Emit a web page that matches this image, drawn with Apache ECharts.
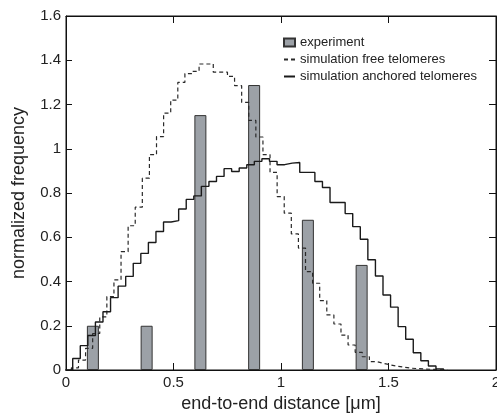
<!DOCTYPE html>
<html>
<head>
<meta charset="utf-8">
<script src="https://cdn.jsdelivr.net/npm/echarts@6/dist/echarts.min.js"></script>
<style>
  html, body { margin: 0; padding: 0; background: #fff; }
  #main { width: 497px; height: 417px; }
</style>
</head>
<body>
<div id="main"></div>
<script>
// experiment histogram (bar centres and heights)
var barCenters = [0.125, 0.375, 0.625, 0.875, 1.125, 1.375];
var experiment = [0.2, 0.2, 1.152, 1.288, 0.679, 0.475];

// simulation free telomeres, bins start at freeStart, width freeWidth
var freeStart = 0.025;
var freeWidth = 0.033;
var freeFreq = [0.01, 0.045, 0.098, 0.165, 0.24, 0.332, 0.407, 0.535, 0.652, 0.736,
  0.867, 0.973, 1.055, 1.161, 1.22, 1.30, 1.34, 1.35, 1.383, 1.383,
  1.346, 1.346, 1.327, 1.285, 1.21, 1.128, 1.053, 0.973, 0.893, 0.784,
  0.709, 0.615, 0.551, 0.445, 0.392, 0.314, 0.249, 0.208, 0.158, 0.113,
  0.08, 0.06, 0.038, 0.03, 0.023, 0.017, 0.012, 0.008, 0.006, 0.004,
  0.003, 0.002, 0];

// simulation anchored telomeres
var anchStart = -0.004;
var anchWidth = 0.0352;
var anchFreq = [0, 0.052, 0.11, 0.156, 0.217, 0.263, 0.327, 0.379, 0.423, 0.482,
  0.527, 0.576, 0.626, 0.669, 0.675, 0.728, 0.771, 0.787, 0.83, 0.852,
  0.875, 0.91, 0.897, 0.913, 0.928, 0.943, 0.955, 0.943, 0.928, 0.935,
  0.938, 0.893, 0.893, 0.852, 0.825, 0.757, 0.757, 0.707, 0.648, 0.591,
  0.498, 0.425, 0.339, 0.284, 0.196, 0.139, 0.078, 0.042, 0.018, 0.005];

var xTicks = [0, 0.5, 1, 1.5, 2];
var yTicks = [0, 0.2, 0.4, 0.6, 0.8, 1, 1.2, 1.4, 1.6];

function stepData(start, width, vals) {
  var out = [[start, 0]];
  for (var i = 0; i < vals.length; i++) {
    out.push([start + i * width, vals[i]]);
  }
  out.push([start + vals.length * width, 0]);
  return out;
}

var barData = [];
for (var i = 0; i < barCenters.length; i++) {
  barData.push([barCenters[i], experiment[i]]);
}

var myChart = echarts.init(document.getElementById('main'));
var font = 'Liberation Sans, Arial, Helvetica, sans-serif';
var ink = '#222';

// box around the plot: each axis draws its line and inward ticks
function frame(len) {
  return {
    axisLine: { show: true, onZero: false, lineStyle: { color: '#111', width: 1 } },
    axisTick: { show: true, inside: true, length: len, lineStyle: { color: '#111' } },
    splitLine: { show: false }
  };
}

var hideMark = { color: 'transparent', borderColor: 'transparent', opacity: 0 };

var option = {
  animation: false,
  backgroundColor: '#fff',
  textStyle: { fontFamily: font },
  grid: {
    left: 66, right: 1, top: 16, bottom: 47, containLabel: false, outerBoundsMode: 'none',
    show: true, borderColor: '#111', borderWidth: 1, backgroundColor: 'transparent'
  },
  legend: {
    orient: 'vertical',
    left: 283,
    top: 36,
    padding: 0,
    itemWidth: 11,
    itemHeight: 8,
    itemGap: 4,
    textStyle: { fontFamily: font, fontSize: 13, color: ink },
    data: [
      { name: 'experiment', icon: 'rect' },
      { name: 'simulation free telomeres', itemStyle: hideMark },
      { name: 'simulation anchored telomeres', itemStyle: hideMark }
    ]
  },
  xAxis: [
    Object.assign({
      type: 'value', min: 0, max: 2, interval: 0.5, position: 'bottom',
      name: 'end-to-end distance [\u03bcm]', nameLocation: 'middle', nameGap: 19,
      nameTextStyle: { fontFamily: font, fontSize: 18, color: ink },
      axisLabel: {
        fontFamily: font, fontSize: 15, color: ink, margin: 5,
        formatter: function (v) { return xTicks.indexOf(v) >= 0 ? String(v) : ''; }
      }
    }, frame(7)),
    Object.assign({
      type: 'value', min: 0, max: 2, interval: 0.5, position: 'top',
      axisLabel: { show: false }
    }, frame(7))
  ],
  yAxis: [
    Object.assign({
      type: 'value', min: 0, max: 1.6, interval: 0.2, position: 'left',
      name: 'normalized frequency', nameLocation: 'middle', nameGap: 38,
      nameTextStyle: { fontFamily: font, fontSize: 18, color: ink },
      axisLabel: {
        fontFamily: font, fontSize: 15, color: ink, margin: 5,
        formatter: function (v) {
          var r = Math.round(v * 10) / 10;
          return yTicks.indexOf(r) >= 0 ? String(r) : '';
        }
      }
    }, frame(6)),
    Object.assign({
      type: 'value', min: 0, max: 1.6, interval: 0.2, position: 'right',
      axisLabel: { show: false }
    }, frame(7))
  ],
  series: [
    {
      name: 'experiment',
      type: 'bar',
      barWidth: 12,
      data: barData,
      itemStyle: { color: '#9ca1a7', borderColor: '#333', borderWidth: 1 },
      z: 1
    },
    {
      name: 'simulation free telomeres',
      type: 'line',
      step: 'end',
      symbol: 'none',
      data: stepData(freeStart, freeWidth, freeFreq),
      lineStyle: { color: '#2a2a2a', width: 1.2, type: [4, 3] },
      itemStyle: { color: '#2a2a2a' },
      z: 3
    },
    {
      name: 'simulation anchored telomeres',
      type: 'line',
      step: 'end',
      symbol: 'none',
      data: stepData(anchStart, anchWidth, anchFreq),
      lineStyle: { color: '#1a1a1a', width: 1.4 },
      itemStyle: { color: '#1a1a1a' },
      z: 4
    }
  ]
};

option && myChart.setOption(option);
</script>
</body>
</html>
